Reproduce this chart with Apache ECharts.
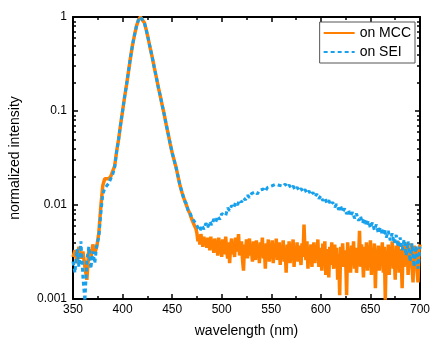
<!DOCTYPE html>
<html><head><meta charset="utf-8">
<script src="https://cdn.jsdelivr.net/npm/echarts@6/dist/echarts.min.js"></script>
<style>html,body{margin:0;padding:0;background:#fff}#c{width:433px;height:343px}</style>
</head><body><div id="c"></div>
<script>
// "on MCC" (orange): 350..474 nm every 2 nm, then 475..700 nm every 1 nm
const MCC_HEAD_START = 350, MCC_HEAD_STEP = 2;
const MCC_TAIL_START = 475, MCC_TAIL_STEP = 1;
// "on SEI" (blue): 350..700 nm every 2 nm
const SEI_START = 350, SEI_STEP = 2;

const mccHead = [
  0.0028, 0.0033, 0.0024, 0.0036, 0.0027, 0.0032, 0.0022, 0.0016, 0.0034, 0.0026, 0.0038, 0.0031,
  0.0036, 0.005, 0.0095, 0.016, 0.019, 0.0195, 0.019, 0.020, 0.021, 0.026,
  0.037, 0.05, 0.072, 0.1, 0.14, 0.19, 0.265, 0.37, 0.50, 0.64, 0.80, 0.93, 1.0, 0.97, 0.87, 0.72, 0.58, 0.46, 0.37, 0.29,
  0.23, 0.18, 0.145, 0.115, 0.092, 0.072, 0.057, 0.045, 0.036, 0.030, 0.025, 0.020, 0.016, 0.0135, 0.0117, 0.0102, 0.009, 0.008, 0.007, 0.0062, 0.0056
];
const mccTail = [
  0.0050,0.0041,0.0047,0.0038,0.0049,0.0043,0.0036,0.0046,0.0039,0.0044,
  0.0035,0.0045,0.0040,0.0033,0.0046,0.0037,0.0042,0.0031,0.0044,0.0036,
  0.0040,0.0029,0.0045,0.0034,0.0038,0.0028,0.0043,0.0035,0.0030,0.0046,
  0.0033,0.0027,0.0040,0.0024,0.0037,0.0044,0.0030,0.0036,0.0028,0.0045,
  0.0032,0.0039,0.0049,0.0029,0.0035,0.0041,0.0026,0.0020,0.0038,0.0031,
  0.0043,0.0027,0.0036,0.0044,0.0029,0.0034,0.0025,0.0041,0.0033,0.0026,
  0.0042,0.0030,0.0037,0.0024,0.0040,0.0032,0.0045,0.0027,0.0035,0.0021,
  0.0039,0.0029,0.0043,0.0025,0.0036,0.0031,0.0042,0.0024,0.0038,0.0028,
  0.0044,0.0026,0.0035,0.0040,0.0023,0.0037,0.0030,0.0042,0.0025,0.0034,
  0.0019,0.0038,0.0028,0.0041,0.0024,0.0036,0.0031,0.0043,0.0022,0.0035,
  0.0027,0.0040,0.0025,0.0037,0.0030,0.0023,0.0039,0.0028,0.0062,0.0033,
  0.0026,0.0041,0.0021,0.0036,0.0029,0.0038,0.0022,0.0034,0.0040,0.0024,
  0.0037,0.0027,0.0043,0.0022,0.0035,0.0030,0.0020,0.0039,0.0026,0.0041,
  0.0018,0.0034,0.0029,0.0017,0.0036,0.0023,0.0040,0.0027,0.0021,0.0038,
  0.0025,0.0035,0.0016,0.0030,0.0011,0.0036,0.0024,0.0039,0.0022,0.0033,
  0.0028,0.0011,0.0040,0.0025,0.0034,0.0019,0.0037,0.0027,0.0041,0.0021,
  0.0035,0.0019,0.0031,0.0026,0.0053,0.0022,0.0038,0.0029,0.0017,0.0036,
  0.0024,0.0040,0.0020,0.0033,0.0027,0.0042,0.0018,0.0035,0.0023,0.0039,
  0.0013,0.0031,0.0026,0.0037,0.0020,0.0034,0.0028,0.0040,0.0019,0.0036,
  0.00098,0.0032,0.0024,0.0038,0.0018,0.0035,0.0027,0.0041,0.0021,0.0033,
  0.0016,0.0037,0.0025,0.0041,0.0019,0.0034,0.0029,0.0013,0.0038,0.0022,
  0.0036,0.0027,0.0040,0.0018,0.0034,0.0024,0.0039,0.0021,0.0015,0.0037,
  0.0025,0.0035,0.0020,0.0015,0.0033,0.0038
];

const onSEI = [
  0.0025, 0.0019, 0.0034, 0.0022, 0.0041, 0.0017, 0.00095, 0.0026, 0.0036, 0.0021, 0.0032, 0.0024,
  0.0038, 0.0045, 0.008, 0.013, 0.015, 0.016, 0.017, 0.019, 0.021, 0.025,
  0.037, 0.05, 0.072, 0.1, 0.14, 0.19, 0.265, 0.37, 0.50, 0.64, 0.80, 0.93, 1.0, 0.97, 0.87, 0.72, 0.58, 0.46, 0.37, 0.29,
  0.23, 0.18, 0.145, 0.115, 0.092, 0.072, 0.057, 0.045, 0.036, 0.030, 0.025, 0.020, 0.016, 0.0138, 0.0112, 0.0105, 0.0088, 0.0083, 0.0072, 0.0068, 0.0063,
  0.0062, 0.0053, 0.0061, 0.0055, 0.0064, 0.0058, 0.0067, 0.0061, 0.0071, 0.0066, 0.0076, 0.0070, 0.0081,
  0.0085, 0.0077, 0.0093, 0.0087, 0.0099, 0.0093, 0.0106, 0.0100, 0.0113, 0.0107, 0.0119, 0.0113, 0.0127,
  0.0120, 0.0132, 0.0126, 0.0138, 0.0131, 0.0143, 0.0137, 0.0148, 0.0140, 0.0153, 0.0146, 0.0159, 0.0152,
  0.0166, 0.0173, 0.0162, 0.0169, 0.0158, 0.0167, 0.0155, 0.0163, 0.0151, 0.0159, 0.0146, 0.0155, 0.0142,
  0.0150, 0.0138, 0.0146, 0.0133, 0.0141, 0.0128, 0.0136, 0.0123, 0.0131, 0.0117, 0.0125, 0.0111, 0.0119,
  0.0105, 0.0112, 0.0100, 0.0107, 0.0095, 0.0102, 0.0089, 0.0097, 0.0084, 0.0092, 0.0080, 0.0088, 0.0076,
  0.0084, 0.0072, 0.0081, 0.0068, 0.0076, 0.0064, 0.0072, 0.0060, 0.0068, 0.0057, 0.0065, 0.0054, 0.0062,
  0.0050, 0.0058, 0.0048, 0.0056, 0.0045, 0.0053, 0.0042, 0.0050, 0.0039, 0.0048, 0.0036, 0.0045, 0.0033,
  0.0043, 0.0029, 0.0041, 0.0025, 0.0039, 0.0022, 0.0037, 0.0021, 0.0036
];

const yLabelValues = [0.001, 0.01, 0.1, 1];
const yLabelTexts = ['0.001', '0.01', '0.1', '1'];
const yMinorTicks = [0.002,0.003,0.004,0.005,0.006,0.007,0.008,0.009,
                     0.02,0.03,0.04,0.05,0.06,0.07,0.08,0.09,
                     0.2,0.3,0.4,0.5,0.6,0.7,0.8,0.9];

const seriesNames = ['on MCC', 'on SEI'];
const colors = ['#FF8000', '#17A0EC'];

function pairs(vals, start, step) { return vals.map((v, i) => [start + i * step, v]); }
const mccData = pairs(mccHead, MCC_HEAD_START, MCC_HEAD_STEP).concat(pairs(mccTail, MCC_TAIL_START, MCC_TAIL_STEP));
const seiData = pairs(onSEI, SEI_START, SEI_STEP);

const FONT = "'Liberation Sans', Arial, sans-serif";
const chart = echarts.init(document.getElementById('c'), null, {renderer: 'canvas'});
const axisLine = {show: true, lineStyle: {color: '#000', width: 2}};
const logBase = {type: 'log', logBase: 10, min: 0.001, max: 1, splitLine: {show: false}};

chart.setOption({
  animation: false,
  backgroundColor: '#fff',
  grid: {left: 73, right: 10, top: 17, bottom: 41, containLabel: false},
  legend: {
    orient: 'vertical', right: 18, top: 22,
    data: seriesNames,
    itemWidth: 31, itemHeight: 14, itemGap: 5,
    padding: [4, 4, 4, 3],
    borderColor: '#555', borderWidth: 1, backgroundColor: '#fff',
    itemStyle: {opacity: 0},
    textStyle: {fontFamily: FONT, fontSize: 14, color: '#000'}
  },
  xAxis: [
    {type: 'value', position: 'bottom', min: 350, max: 700, interval: 50,
     axisLine, splitLine: {show: false},
     axisTick: {inside: true, length: 5, lineStyle: {color: '#000', width: 1.5}},
     minorTick: {show: true, splitNumber: 2, length: 3, lineStyle: {color: '#000', width: 1.5}},
     axisLabel: {fontFamily: FONT, fontSize: 12, color: '#000', margin: 5},
     name: 'wavelength (nm)', nameLocation: 'middle', nameGap: 25,
     nameTextStyle: {fontFamily: FONT, fontSize: 14, color: '#000'}},
    {type: 'value', position: 'top', min: 350, max: 700, interval: 50,
     axisLine, splitLine: {show: false},
     axisTick: {inside: true, length: 5, lineStyle: {color: '#000', width: 1.5}},
     minorTick: {show: true, splitNumber: 2, length: 3, lineStyle: {color: '#000', width: 1.5}},
     axisLabel: {show: false}}
  ],
  yAxis: [
    Object.assign({}, logBase, {position: 'left', axisLine,
     axisTick: {inside: true, length: 5, customValues: yLabelValues, lineStyle: {color: '#000', width: 1.5}},
     axisLabel: {customValues: yLabelValues, fontFamily: FONT, fontSize: 12, color: '#000', margin: 6,
       formatter: v => { const i = yLabelValues.findIndex(t => Math.abs(Math.log10(t) - Math.log10(v)) < 1e-6); return i >= 0 ? yLabelTexts[i] : ''; }},
     name: 'normalized intensity', nameLocation: 'middle', nameGap: 51,
     nameTextStyle: {fontFamily: FONT, fontSize: 14, color: '#000'}}),
    Object.assign({}, logBase, {position: 'left', axisLine: {show: false},
     axisTick: {inside: true, length: 3, customValues: yMinorTicks, lineStyle: {color: '#000', width: 1.5}},
     axisLabel: {show: false}}),
    Object.assign({}, logBase, {position: 'right', axisLine,
     axisTick: {inside: true, length: 5, customValues: yLabelValues, lineStyle: {color: '#000', width: 1.5}},
     axisLabel: {show: false}}),
    Object.assign({}, logBase, {position: 'right', axisLine: {show: false},
     axisTick: {inside: true, length: 3, customValues: yMinorTicks, lineStyle: {color: '#000', width: 1.5}},
     axisLabel: {show: false}})
  ],
  series: [
    {name: seriesNames[0], type: 'line', xAxisIndex: 0, yAxisIndex: 0, data: mccData,
     symbol: 'none', showSymbol: false, color: colors[0],
     lineStyle: {color: colors[0], width: 3.5}, z: 2},
    {name: seriesNames[1], type: 'line', xAxisIndex: 0, yAxisIndex: 0, data: seiData,
     symbol: 'none', showSymbol: false, color: colors[1],
     lineStyle: {color: colors[1], width: 3, type: [4, 3]}, z: 3}
  ]
});
</script>
</body></html>
